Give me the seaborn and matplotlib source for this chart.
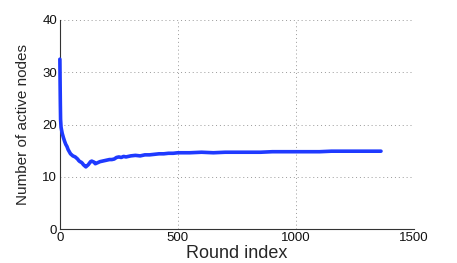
import matplotlib
matplotlib.use("Agg")
import matplotlib.pyplot as plt
import seaborn as sns
import pandas as pd

rounds = [0, 1, 2, 3, 5, 7, 10, 15, 20, 25, 30, 35, 40, 45, 50, 55, 60, 65, 70, 75,
          80, 85, 90, 95, 100, 105, 110, 115, 120, 125, 130, 135, 140, 145, 150, 155,
          160, 170, 180, 190, 200, 210, 220, 230, 240, 250, 260, 270, 280, 290, 300,
          320, 340, 360, 380, 400, 420, 440, 460, 480, 500, 550, 600, 650, 700, 750,
          800, 850, 900, 950, 1000, 1050, 1100, 1150, 1200, 1250, 1300, 1360]
active = [32.5, 28, 24, 21, 19.5, 19, 18.3, 17.5, 16.8, 16.2, 15.8, 15.2, 14.8, 14.4,
          14.2, 14.0, 13.9, 13.8, 13.6, 13.4, 13.1, 12.9, 12.8, 12.6, 12.3, 12.1, 11.9,
          12.1, 12.3, 12.6, 12.9, 13.0, 12.9, 12.8, 12.5, 12.6, 12.7, 12.9, 13.0, 13.1,
          13.2, 13.3, 13.3, 13.4, 13.7, 13.8, 13.7, 13.9, 13.8, 13.9, 14.0, 14.1, 14.0,
          14.2, 14.2, 14.3, 14.4, 14.4, 14.5, 14.5, 14.6, 14.6, 14.7, 14.6, 14.7, 14.7,
          14.7, 14.7, 14.8, 14.8, 14.8, 14.8, 14.8, 14.9, 14.9, 14.9, 14.9, 14.9]
x_ticks = [0, 500, 1000, 1500]
y_ticks = [0, 10, 20, 30, 40]

sns.set_style("white")
plt.rcParams['font.family'] = ['Liberation Sans', 'DejaVu Sans']

df = pd.DataFrame({"round": rounds, "active": active})

fig = plt.figure(figsize=(4.57, 2.63), dpi=100)
ax = fig.add_axes([0.131, 0.129, 0.775, 0.795])
sns.lineplot(data=df, x="round", y="active", ax=ax, color="#1f3aff",
             linewidth=2.6, sort=False, estimator=None, zorder=3, clip_on=False)

ax.set_xlim(0, 1500)
ax.set_ylim(0, 40)
ax.set_xticks(x_ticks)
ax.set_yticks(y_ticks)
ax.grid(True, linestyle=(0, (1, 3)), color="#999999", linewidth=0.7)
for s in ["top", "right"]:
    ax.spines[s].set_visible(False)
for s in ["left", "bottom"]:
    ax.spines[s].set_color("#333333")
    ax.spines[s].set_linewidth(0.8)
ax.tick_params(axis="both", labelsize=9.5, length=0, pad=2, colors="#111111")
ax.set_xlabel("Round index", fontsize=13, labelpad=1)
ax.set_ylabel("Number of active nodes", fontsize=11, labelpad=9)

fig.savefig("out.png", dpi=100)
